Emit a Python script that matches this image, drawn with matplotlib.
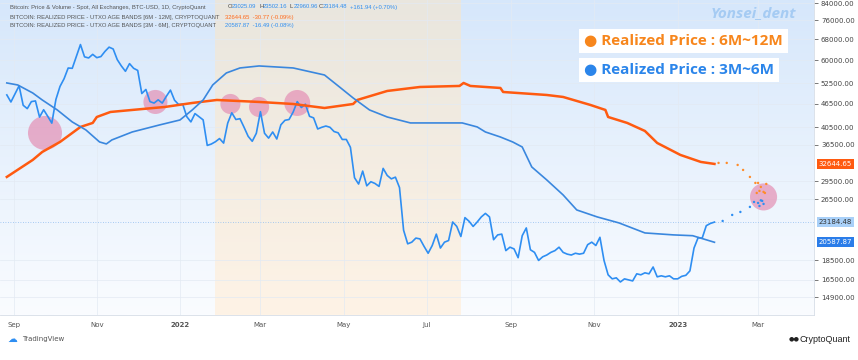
import matplotlib
matplotlib.use("Agg")
import matplotlib.pyplot as plt
import matplotlib.dates as mdates
from matplotlib.colors import LinearSegmentedColormap
from matplotlib.ticker import FormatStrFormatter, NullLocator
import numpy as np
import pandas as pd

# BTC daily close, sampled every 3 days from 2021-08-27
closes = [
    49000, 47000,
    49300, 51700, 46100, 45200, 47100, 47300, 43000, 44900, 43200, 41500,
    47700, 51500, 53900, 57400, 57300, 61500, 65900, 61300, 60900, 62200,
    61000, 61400, 63300, 64900, 64200, 60300, 58100, 56300, 58900, 57300,
    56600, 49400, 50600, 47100, 46700, 47600, 46700, 48600, 50400, 47500, 46300,
    46400, 43100, 41800, 43900, 43100, 42300, 36400, 36700, 37200, 37900,
    36900, 41500, 44100, 42400, 42600, 40500, 38400, 37300, 39100,
    44400, 39100, 38000, 39400, 37800, 41100, 42200, 42400, 44300, 47100, 45500,
    46400, 43200, 42800, 40100, 40500, 40800, 40500, 39500, 39200, 37700,
    37700, 36000, 30100, 29000, 31300, 28700, 29400, 29100, 28600, 31800,
    30500, 29900, 30200, 28400, 22100, 20400, 20600, 21100, 21000, 20100,
    19300, 20200, 21600, 19900, 20600, 20800, 23200, 22600, 21300, 23800,
    23300, 22600, 23200, 23900, 24400, 23900, 20900, 21500, 21600, 19600, 20000,
    19800, 18800, 21400, 22400, 19700, 19400, 18500, 18900, 19100, 19400,
    19600, 20000, 19400, 19200, 19100, 19300, 19200, 19300, 20300, 20600,
    20200, 21200, 18500, 17000, 16600, 16700, 16300, 16600, 16500, 16400,
    17100, 17000, 17200, 17100, 17800, 16800, 16900, 16800, 16900, 16600,
    16600, 16850, 16950, 17400, 19900, 21150, 21100, 22700, 23000, 23184,
]
price_dates = pd.date_range("2021-08-27", periods=len(closes), freq="3D")

# Realized price, UTXO age band 6M-12M
rp_long_dates = pd.to_datetime([
    "2021-08-27", "2021-09-15", "2021-09-22", "2021-10-05", "2021-10-20",
    "2021-10-29", "2021-11-01", "2021-11-11", "2021-11-27", "2021-12-21",
    "2022-01-10", "2022-01-28", "2022-02-28", "2022-03-25", "2022-04-17",
    "2022-05-08", "2022-05-11", "2022-06-02", "2022-06-26", "2022-07-25",
    "2022-07-28", "2022-08-02", "2022-08-24", "2022-08-26", "2022-09-27",
    "2022-10-09", "2022-10-29", "2022-11-09", "2022-11-11", "2022-11-25",
    "2022-12-08", "2022-12-17", "2023-01-03", "2023-01-18", "2023-01-28",
])
rp_long = [
    30240, 33420, 35030, 37150, 40580,
    41550, 43030, 44320, 44850, 45650,
    46730, 47560, 47010, 46450, 45370,
    46450, 47560, 50150, 51340, 51650,
    52570, 51650, 51040, 49850, 48980,
    48410, 46190, 44850, 43030, 41550,
    39630, 36930, 34420, 33030, 32645,
]

# Realized price, UTXO age band 3M-6M
rp_short_dates = pd.to_datetime([
    "2021-08-27", "2021-09-04", "2021-09-15", "2021-09-22", "2021-10-03",
    "2021-10-14", "2021-10-24", "2021-11-03", "2021-11-08", "2021-11-12",
    "2021-11-27", "2021-12-17", "2022-01-01", "2022-01-10", "2022-01-18",
    "2022-01-25", "2022-02-04", "2022-02-14", "2022-02-28", "2022-03-25",
    "2022-04-17", "2022-04-28", "2022-05-08", "2022-05-20", "2022-06-02",
    "2022-06-19", "2022-07-08", "2022-07-27", "2022-08-07", "2022-08-13",
    "2022-08-24", "2022-09-02", "2022-09-09", "2022-09-16", "2022-09-27",
    "2022-10-09", "2022-10-19", "2022-11-03", "2022-11-19", "2022-12-08",
    "2022-12-29", "2023-01-12", "2023-01-28",
])
rp_short = [
    52570, 51950, 49560, 47560, 44850,
    41790, 39870, 37150, 36720, 37590,
    39400, 41060, 42280, 44850, 47560,
    51950, 55750, 57420, 58100, 57420,
    55090, 51340, 48130, 44850, 43030,
    41550, 41550, 41550, 40580, 39400,
    38250, 37150, 36070, 32070, 29710,
    27200, 24900, 23900, 23070, 21750,
    21500, 21400, 20588,
]

# hand-drawn projections
proj_long_dates = pd.to_datetime(["2023-01-31", "2023-02-06", "2023-02-14", "2023-02-18",
                                  "2023-02-23", "2023-02-27", "2023-03-03", "2023-03-05",
                                  "2023-03-01", "2023-03-07", "2023-03-02", "2023-03-06", "2023-02-28"])
proj_long = [32840, 32840, 32450, 31510, 30240, 29190, 28510, 27690,
             29190, 29020, 27850, 27520, 27520]
proj_short_dates = pd.to_datetime(["2023-02-03", "2023-02-10", "2023-02-16", "2023-02-23",
                                   "2023-03-01", "2023-03-03", "2023-03-04", "2023-02-26",
                                   "2023-03-05", "2023-03-02"])
proj_short = [23340, 24180, 24610, 25350, 25950, 26350, 26260, 26100, 25800, 25490]

# highlighted zones (date, price, marker size)
circle_dates = pd.to_datetime(["2021-09-24", "2021-12-14", "2022-02-07", "2022-02-28",
                               "2022-03-28", "2023-03-05"])
circle_prices = [39170, 47010, 46450, 45650, 46730, 26880]
circle_sizes = [600, 300, 210, 210, 350, 380]

ytick_vals = [84000, 76000, 68000, 60000, 52500, 46500, 40500, 36500,
              29500, 26500, 18500, 16500, 14900]
xtick_dates = pd.to_datetime(["2021-09-01", "2021-11-01", "2022-01-01", "2022-03-01",
                              "2022-05-01", "2022-07-01", "2022-09-01", "2022-11-01",
                              "2023-01-01", "2023-03-01"])
xtick_labels = ["Sep", "Nov", "2022", "Mar", "May", "Jul", "Sep", "Nov", "2023", "Mar"]

last_close = 23184.48
last_long = 32644.65
last_short = 20587.87

fig = plt.figure(figsize=(8.58, 3.6), dpi=100)
fig.patch.set_facecolor("white")
ax = fig.add_axes([0, 45 / 360, 814 / 858, 315 / 360])
ax.set_yscale("log")

# background gradients
grad = np.linspace(0, 1, 256).reshape(-1, 1)
blue_bg = LinearSegmentedColormap.from_list("bb", ["#d6e7fb", "#fafcff"])
ax.imshow(grad, cmap=blue_bg, extent=[0, 1, 0, 1], transform=ax.transAxes,
          aspect="auto", zorder=0)
beige_bg = LinearSegmentedColormap.from_list("bg", ["#e9e6de", "#fef3e6"])
x0 = mdates.date2num(pd.Timestamp("2022-01-27"))
x1 = mdates.date2num(pd.Timestamp("2022-07-27"))
ax.imshow(grad, cmap=beige_bg, extent=[x0, x1, 0, 1], transform=ax.get_xaxis_transform(),
          aspect="auto", zorder=0)

for v in ytick_vals:
    ax.axhline(v, color="#e3eaf3", lw=0.5, zorder=1)
for d in xtick_dates:
    ax.axvline(d, color="#e3eaf3", lw=0.5, zorder=1)
ax.axhline(last_close, color="#8fbdf0", lw=0.6, ls=(0, (1, 2)), zorder=1)

ax.scatter(circle_dates, circle_prices, s=circle_sizes, color="#e48fb4", alpha=0.7,
           edgecolors="none", zorder=2)

ax.plot(price_dates, closes, color="#2e8ef2", lw=1.2, zorder=3)
ax.plot(rp_long_dates, rp_long, color="#ff5a10", lw=1.8, zorder=4)
ax.plot(rp_short_dates, rp_short, color="#3a87de", lw=1.2, zorder=4)
ax.scatter(proj_long_dates, proj_long, s=3, color="#ff8c2a", zorder=5, edgecolors="none")
ax.scatter(proj_short_dates, proj_short, s=3, color="#2e8ef2", zorder=5, edgecolors="none")

ax.set_xlim(pd.Timestamp("2021-08-22"), pd.Timestamp("2023-04-11"))
ax.set_ylim(13420, 85650)

ax.yaxis.tick_right()
ax.set_yticks(ytick_vals)
ax.yaxis.set_major_formatter(FormatStrFormatter("%.2f"))
ax.yaxis.set_minor_locator(NullLocator())
ax.tick_params(axis="y", labelsize=5, colors="#444444", length=3, width=0.5, pad=2)
ax.set_xticks(xtick_dates)
ax.set_xticklabels(xtick_labels)
ax.tick_params(axis="x", labelsize=5, colors="#555555", length=0, pad=5)
for lbl in ax.get_xticklabels():
    if lbl.get_text() in ("2022", "2023"):
        lbl.set_fontweight("bold")
for s in ["top", "left"]:
    ax.spines[s].set_visible(False)
for s in ["right", "bottom"]:
    ax.spines[s].set_color("#d6dde6")
    ax.spines[s].set_linewidth(0.6)

ytr = ax.get_yaxis_transform()
ax.text(1.006, last_long, f"{last_long:.2f}", transform=ytr, fontsize=5, color="white",
        va="center", ha="left", bbox=dict(boxstyle="square,pad=0.3", fc="#ff5a10", ec="none"), zorder=6)
ax.text(1.006, last_close, f"{last_close:.2f}", transform=ytr, fontsize=5, color="#333333",
        va="center", ha="left", bbox=dict(boxstyle="square,pad=0.3", fc="#a9d0f8", ec="none"), zorder=6)
ax.text(1.006, last_short, f"{last_short:.2f}", transform=ytr, fontsize=5, color="white",
        va="center", ha="left", bbox=dict(boxstyle="square,pad=0.3", fc="#2b7de9", ec="none"), zorder=6)


def px(x, y):
    return x / 858, 1 - y / 360


small = dict(fontsize=4.2, family="Liberation Sans", va="center", ha="left")
fig.text(*px(10, 7), "Bitcoin: Price & Volume - Spot, All Exchanges, BTC-USD, 1D, CryptoQuant",
         color="#555555", **small)
for xx, k, v in [(228, "O", "23025.09"), (259, "H", "23502.16"), (290, "L", "22960.96"),
                 (319, "C", "23184.48")]:
    fig.text(*px(xx, 7), k, color="#444444", **small)
    fig.text(*px(xx + 4, 7), v, color="#2e8ef2", **small)
fig.text(*px(350, 7), "+161.94 (+0.70%)", color="#2e8ef2", **small)
fig.text(*px(10, 17), "BITCOIN: REALIZED PRICE - UTXO AGE BANDS [6M - 12M], CRYPTOQUANT",
         color="#555555", **small)
fig.text(*px(225, 17), "32644.65  -30.77 (-0.09%)", color="#ff6a1a", **small)
fig.text(*px(10, 26), "BITCOIN: REALIZED PRICE - UTXO AGE BANDS [3M - 6M], CRYPTOQUANT",
         color="#555555", **small)
fig.text(*px(225, 26), "20587.87  -16.49 (-0.08%)", color="#2e8ef2", **small)

fig.text(*px(711, 13), "Yonsei_dent", fontsize=11, style="italic", weight="bold",
         color="#a5cbf3", family="Open Sans", va="center", ha="left")
box = dict(boxstyle="square,pad=0.35", fc="white", ec="none")
fig.text(*px(584, 41), "● Realized Price : 6M~12M", fontsize=11, weight="bold",
         color="#f7861c", family=["Open Sans", "DejaVu Sans"], va="center", ha="left", bbox=box)
fig.text(*px(584, 70), "● Realized Price : 3M~6M", fontsize=11, weight="bold",
         color="#2b85ea", family=["Open Sans", "DejaVu Sans"], va="center", ha="left", bbox=box)

fig.text(*px(7, 339), "☁", fontsize=7, color="#2e8ef2", va="center", ha="left", family="DejaVu Sans")
fig.text(*px(22, 339), "TradingView", fontsize=5, color="#555555", va="center", ha="left")
fig.text(*px(789, 339), "●●", fontsize=4.5, color="#222222", va="center", ha="left")
fig.text(*px(800, 339), "CryptoQuant", fontsize=6.5, color="#222222", va="center", ha="left",
         family="Liberation Sans")

fig.savefig("out.png", dpi=100)
